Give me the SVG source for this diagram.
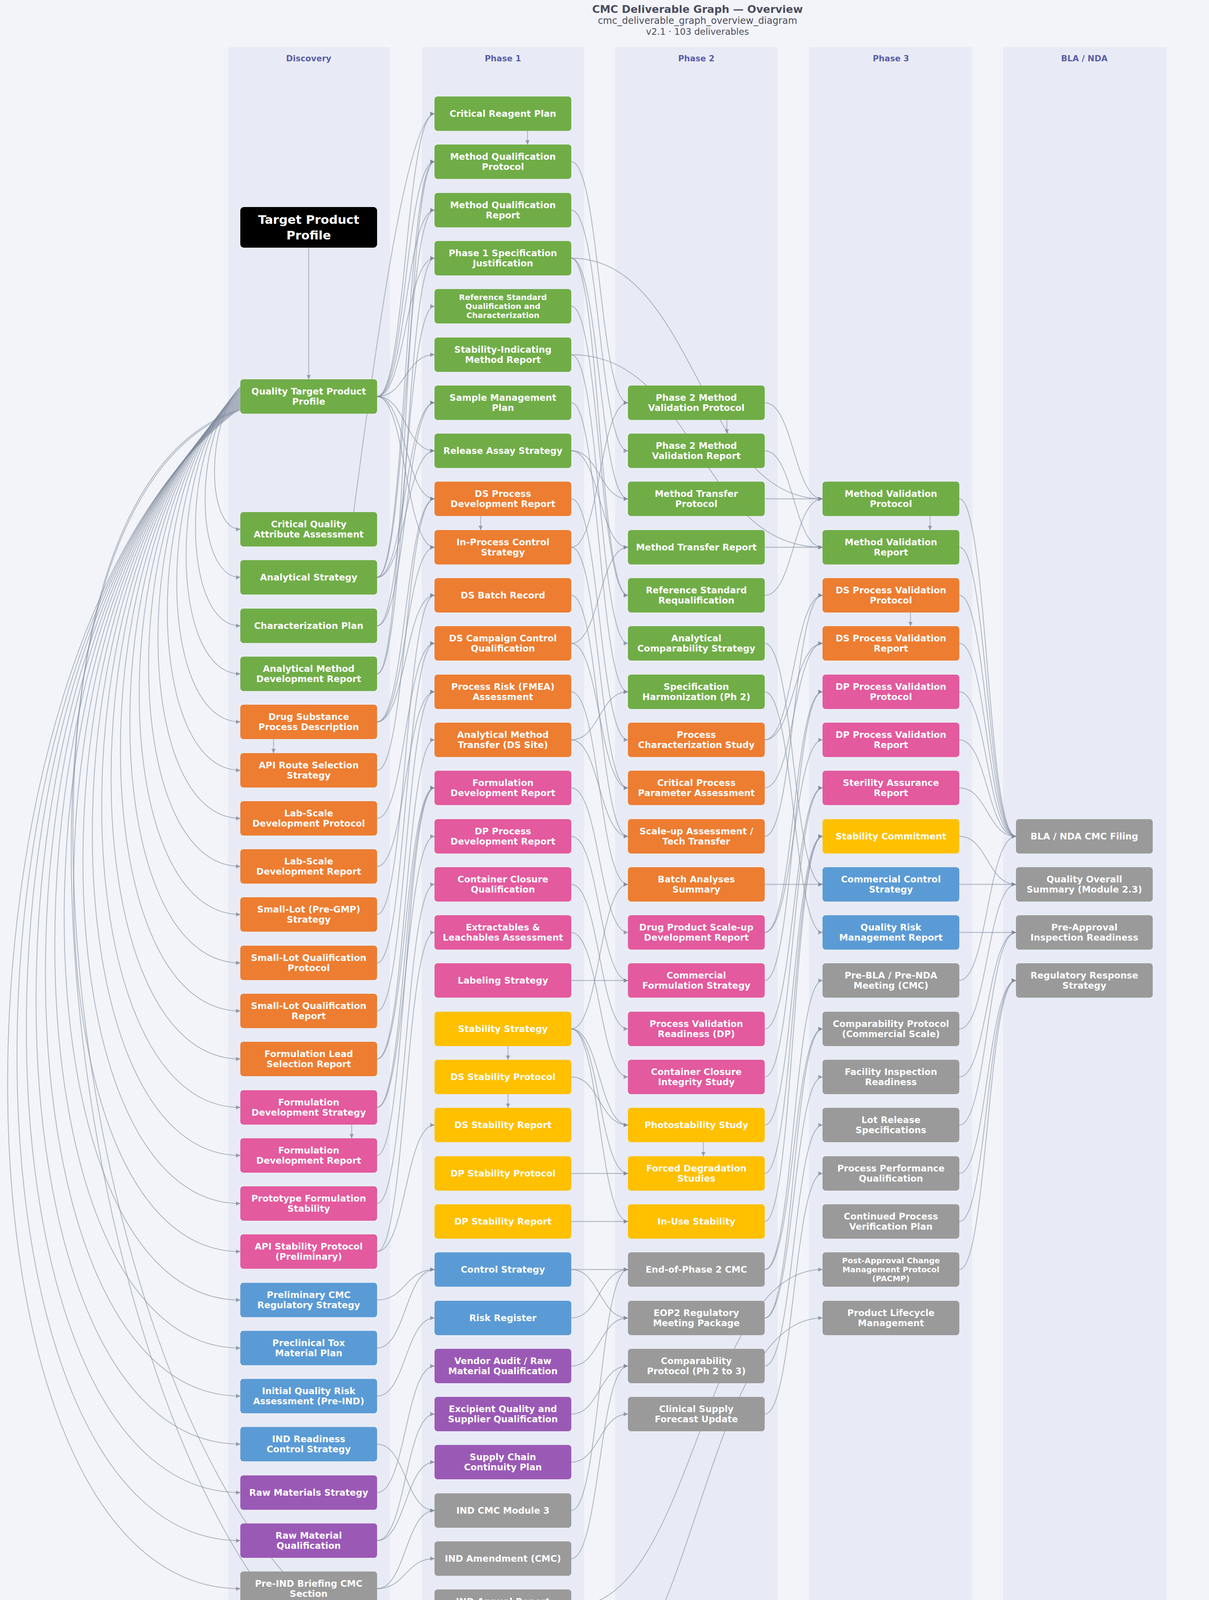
<svg xmlns="http://www.w3.org/2000/svg" width="3094" height="4520" viewBox="0 0 3094 4520">
<style>
.bg{fill:#F2F4F9}
.lane{fill:#E8EBF5}
.lh{font-family:'DejaVu Sans','Liberation Sans',sans-serif;font-weight:bold;font-size:21px;fill:#5a5ea8;text-anchor:middle}
.tt{font-family:'DejaVu Sans','Liberation Sans',sans-serif;fill:#4a4d5e;text-anchor:middle}
.n text{font-family:'DejaVu Sans','Liberation Sans',sans-serif;font-weight:bold;font-size:23px;fill:#fff;text-anchor:middle}
.n text.s{font-size:20px}
.gr rect{fill:#70AD47}
.or rect{fill:#ED7D31}
.pk rect{fill:#E35A9E}
.ye rect{fill:#FFC000}
.bl rect{fill:#5B9BD5}
.pu rect{fill:#9B59B6}
.gy rect{fill:#9A9A9A}
.bk rect{fill:#000}
.edges path{fill:none;stroke:#7f8a9c;stroke-width:2.3;stroke-opacity:.55;marker-end:url(#ah)}
.lg{font-family:'DejaVu Sans','Liberation Sans',sans-serif;font-size:14px;fill:#555}
</style>
<defs>
<marker id="ah" viewBox="0 0 10 10" refX="10" refY="5" markerWidth="12" markerHeight="11" markerUnits="userSpaceOnUse" orient="auto"><path d="M0,0 L10,5 L0,10 z" fill="#7f8a9c" fill-opacity=".75"/></marker>
</defs>
<rect class="bg" x="0" y="0" width="3094" height="4520"/>
<g id="title">
<text class="tt" x="1785" y="33" style="font-size:27px;font-weight:bold">CMC Deliverable Graph — Overview</text>
<text class="tt" x="1785" y="61" style="font-size:24px">cmc_deliverable_graph_overview_diagram</text>
<text class="tt" x="1785" y="89" style="font-size:23px">v2.1 · 103 deliverables</text>
</g>
<g id="lanes">
<rect class="lane" x="584" y="121" width="414" height="4384"/>
<rect class="lane" x="1079" y="121" width="416" height="4384"/>
<rect class="lane" x="1574" y="121" width="416" height="4384"/>
<rect class="lane" x="2070" y="121" width="418" height="4384"/>
<rect class="lane" x="2567" y="121" width="418" height="4384"/>
<text class="lh" x="790" y="157">Discovery</text>
<text class="lh" x="1287" y="157">Phase 1</text>
<text class="lh" x="1782" y="157">Phase 2</text>
<text class="lh" x="2280" y="157">Phase 3</text>
<text class="lh" x="2775" y="157">BLA / NDA</text>
</g>
<g id="connectors" class="edges">
<path d="M790 634 L790 971"/>
<path d="M615 990 C527 1083 527 1355 615 1355"/>
<path d="M615 992 C495 1108 495 1478 615 1478"/>
<path d="M615 995 C462 1132 462 1602 615 1602"/>
<path d="M615 997 C430 1157 430 1725 615 1725"/>
<path d="M615 1000 C398 1182 398 1848 615 1848"/>
<path d="M615 1002 C366 1206 366 1972 615 1972"/>
<path d="M615 1005 C334 1231 334 2095 615 2095"/>
<path d="M615 1007 C302 1256 302 2218 615 2218"/>
<path d="M615 1010 C270 1280 270 2341 615 2341"/>
<path d="M615 1012 C238 1305 238 2465 615 2465"/>
<path d="M615 1015 C206 1330 206 2588 615 2588"/>
<path d="M615 1017 C174 1354 174 2711 615 2711"/>
<path d="M615 1020 C142 1379 142 2835 615 2835"/>
<path d="M615 1022 C110 1404 110 2958 615 2958"/>
<path d="M615 1025 C78 1428 78 3081 615 3081"/>
<path d="M615 1027 C46 1453 46 3204 615 3204"/>
<path d="M615 1030 C14 1478 14 3328 615 3328"/>
<path d="M615 1032 C-18 1502 -18 3451 615 3451"/>
<path d="M615 1035 C-50 1527 -50 3574 615 3574"/>
<path d="M615 1037 C-82 1551 -82 3697 615 3697"/>
<path d="M615 1040 C-115 1576 -115 3821 615 3821"/>
<path d="M615 1042 C-147 1601 -147 3944 615 3944"/>
<path d="M615 1045 C-179 1625 -179 4067 615 4067"/>
<path d="M615 1048 C-200 1300 250 4237 1112 4237"/>
<path d="M615 1050 C-210 1320 250 4360 1112 4360"/>
<path d="M905 1311 C960 900 1040 300 1112 291"/>
<path d="M965 1015 C1038 1015 1038 291 1112 291"/>
<path d="M965 1015 C1038 1015 1038 414 1112 414"/>
<path d="M965 1015 C1038 1015 1038 538 1112 538"/>
<path d="M965 1015 C1038 1015 1038 661 1112 661"/>
<path d="M965 1015 C1038 1015 1038 908 1112 908"/>
<path d="M965 1015 C1038 1015 1038 1154 1112 1154"/>
<path d="M965 1015 C1038 1015 1038 1277 1112 1277"/>
<path d="M965 1015 C1038 1015 1038 1401 1112 1401"/>
<path d="M965 1478 C1038 1478 1038 414 1112 414"/>
<path d="M965 1478 C1038 1478 1038 538 1112 538"/>
<path d="M965 1478 C1038 1478 1038 1031 1112 1031"/>
<path d="M965 1478 C1038 1478 1038 1154 1112 1154"/>
<path d="M965 1602 C1038 1602 1038 784 1112 784"/>
<path d="M965 1602 C1038 1602 1038 1031 1112 1031"/>
<path d="M965 1725 C1038 1725 1038 414 1112 414"/>
<path d="M965 1725 C1038 1725 1038 661 1112 661"/>
<path d="M965 1848 C1038 1848 1038 1277 1112 1277"/>
<path d="M965 1848 C1038 1848 1038 1401 1112 1401"/>
<path d="M965 1848 C1038 1848 1038 1524 1112 1524"/>
<path d="M965 1972 C1038 1972 1038 1277 1112 1277"/>
<path d="M965 2095 C1038 2095 1038 1647 1112 1647"/>
<path d="M965 2218 C1038 2218 1038 1771 1112 1771"/>
<path d="M965 2341 C1038 2341 1038 1524 1112 1524"/>
<path d="M965 2465 C1038 2465 1038 1647 1112 1647"/>
<path d="M965 2588 C1038 2588 1038 1771 1112 1771"/>
<path d="M965 2711 C1038 2711 1038 1894 1112 1894"/>
<path d="M965 2711 C1038 2711 1038 2017 1112 2017"/>
<path d="M965 2835 C1038 2835 1038 2017 1112 2017"/>
<path d="M965 2835 C1038 2835 1038 2141 1112 2141"/>
<path d="M965 2958 C1038 2958 1038 2017 1112 2017"/>
<path d="M965 3081 C1038 3081 1038 2264 1112 2264"/>
<path d="M965 3204 C1038 3204 1038 2387 1112 2387"/>
<path d="M965 3204 C1038 3204 1038 2880 1112 2880"/>
<path d="M965 3328 C1038 3328 1038 3250 1112 3250"/>
<path d="M965 3451 C1038 3451 1038 3250 1112 3250"/>
<path d="M965 3574 C1038 3574 1038 3374 1112 3374"/>
<path d="M965 3697 C1038 3697 1038 3867 1112 3867"/>
<path d="M965 3821 C1038 3821 1038 3497 1112 3497"/>
<path d="M965 3944 C1038 3944 1038 3620 1112 3620"/>
<path d="M965 3944 C1038 3944 1038 3743 1112 3743"/>
<path d="M965 4067 C1038 4067 1038 3867 1112 3867"/>
<path d="M965 4067 C1038 4067 1038 3990 1112 3990"/>
<path d="M1462 414 C1534 414 1534 1031 1607 1031"/>
<path d="M1462 538 C1534 538 1534 1154 1607 1154"/>
<path d="M1462 661 C1534 661 1534 1524 1607 1524"/>
<path d="M1462 661 C1534 661 1534 1277 1607 1277"/>
<path d="M1462 784 C1534 784 1534 1524 1607 1524"/>
<path d="M1462 908 C1534 908 1534 1647 1607 1647"/>
<path d="M1462 1031 C1534 1031 1534 1771 1607 1771"/>
<path d="M1462 1154 C1534 1154 1534 1277 1607 1277"/>
<path d="M1462 1154 C1534 1154 1534 1401 1607 1401"/>
<path d="M1462 1277 C1534 1277 1534 1894 1607 1894"/>
<path d="M1462 1401 C1534 1401 1534 2017 1607 2017"/>
<path d="M1462 1401 C1534 1401 1534 1031 1607 1031"/>
<path d="M1462 1524 C1534 1524 1534 2141 1607 2141"/>
<path d="M1462 1647 C1534 1647 1534 2017 1607 2017"/>
<path d="M1462 1647 C1534 1647 1534 1401 1607 1401"/>
<path d="M1462 1771 C1534 1771 1534 2264 1607 2264"/>
<path d="M1462 1894 C1534 1894 1534 2141 1607 2141"/>
<path d="M1462 1894 C1534 1894 1534 1771 1607 1771"/>
<path d="M1462 2017 C1534 2017 1534 2387 1607 2387"/>
<path d="M1462 2141 C1534 2141 1534 2510 1607 2510"/>
<path d="M1462 2264 C1534 2264 1534 2634 1607 2634"/>
<path d="M1462 2387 C1534 2387 1534 2757 1607 2757"/>
<path d="M1462 2510 C1534 2510 1534 2510 1607 2510"/>
<path d="M1462 2634 C1534 2634 1534 2880 1607 2880"/>
<path d="M1462 2634 C1534 2634 1534 3004 1607 3004"/>
<path d="M1462 2634 C1534 2634 1534 3127 1607 3127"/>
<path d="M1462 2634 C1534 2634 1534 2264 1607 2264"/>
<path d="M1462 2757 C1534 2757 1534 2880 1607 2880"/>
<path d="M1462 3004 C1534 3004 1534 3004 1607 3004"/>
<path d="M1462 3127 C1534 3127 1534 3127 1607 3127"/>
<path d="M1462 3250 C1534 3250 1534 3250 1607 3250"/>
<path d="M1462 3250 C1534 3250 1534 3374 1607 3374"/>
<path d="M1462 3374 C1534 3374 1534 3250 1607 3250"/>
<path d="M1462 3497 C1534 3497 1534 3374 1607 3374"/>
<path d="M1462 3620 C1534 3620 1534 3497 1607 3497"/>
<path d="M1462 3743 C1534 3743 1534 3620 1607 3620"/>
<path d="M1462 3867 C1534 3867 1534 3250 1607 3250"/>
<path d="M1462 3990 C1534 3990 1534 3497 1607 3497"/>
<path d="M1462 661 C1780 661 1790 1277 2105 1277"/>
<path d="M1462 908 C1780 908 1790 1401 2105 1401"/>
<path d="M1462 4113 C1780 4113 1790 3250 2105 3250"/>
<path d="M1462 4360 C1780 4360 1790 3374 2105 3374"/>
<path d="M1957 1031 C2031 1031 2031 1277 2105 1277"/>
<path d="M1957 1154 C2031 1154 2031 1401 2105 1401"/>
<path d="M1957 1277 C2031 1277 2031 1277 2105 1277"/>
<path d="M1957 1401 C2031 1401 2031 1401 2105 1401"/>
<path d="M1957 1524 C2031 1524 2031 1277 2105 1277"/>
<path d="M1957 1647 C2031 1647 2031 2264 2105 2264"/>
<path d="M1957 1771 C2031 1771 2031 2387 2105 2387"/>
<path d="M1957 1894 C2031 1894 2031 1524 2105 1524"/>
<path d="M1957 1894 C2031 1894 2031 1647 2105 1647"/>
<path d="M1957 2017 C2031 2017 2031 1647 2105 1647"/>
<path d="M1957 2141 C2031 2141 2031 1524 2105 1524"/>
<path d="M1957 2264 C2031 2264 2031 2264 2105 2264"/>
<path d="M1957 2387 C2031 2387 2031 1771 2105 1771"/>
<path d="M1957 2387 C2031 2387 2031 1894 2105 1894"/>
<path d="M1957 2510 C2031 2510 2031 1771 2105 1771"/>
<path d="M1957 2634 C2031 2634 2031 2017 2105 2017"/>
<path d="M1957 2757 C2031 2757 2031 2017 2105 2017"/>
<path d="M1957 2880 C2031 2880 2031 2141 2105 2141"/>
<path d="M1957 3004 C2031 3004 2031 2141 2105 2141"/>
<path d="M1957 3127 C2031 3127 2031 2141 2105 2141"/>
<path d="M1957 3250 C2031 3250 2031 2510 2105 2510"/>
<path d="M1957 3250 C2031 3250 2031 2634 2105 2634"/>
<path d="M1957 3374 C2031 3374 2031 2634 2105 2634"/>
<path d="M1957 3374 C2031 3374 2031 2757 2105 2757"/>
<path d="M1957 3497 C2031 3497 2031 2880 2105 2880"/>
<path d="M1957 3620 C2031 3620 2031 3004 2105 3004"/>
<path d="M2455 1277 C2527 1277 2527 2141 2600 2141"/>
<path d="M2455 1401 C2527 1401 2527 2141 2600 2141"/>
<path d="M2455 1524 C2527 1524 2527 2141 2600 2141"/>
<path d="M2455 1647 C2527 1647 2527 2141 2600 2141"/>
<path d="M2455 1771 C2527 1771 2527 2141 2600 2141"/>
<path d="M2455 1894 C2527 1894 2527 2141 2600 2141"/>
<path d="M2455 2017 C2527 2017 2527 2141 2600 2141"/>
<path d="M2455 2141 C2527 2141 2527 2264 2600 2264"/>
<path d="M2455 2264 C2527 2264 2527 2264 2600 2264"/>
<path d="M2455 2387 C2527 2387 2527 2387 2600 2387"/>
<path d="M2455 2510 C2527 2510 2527 2141 2600 2141"/>
<path d="M2455 2634 C2527 2634 2527 2264 2600 2264"/>
<path d="M2455 2757 C2527 2757 2527 2387 2600 2387"/>
<path d="M2455 2880 C2527 2880 2527 2387 2600 2387"/>
<path d="M2455 3004 C2527 3004 2527 2510 2600 2510"/>
<path d="M2455 3127 C2527 3127 2527 2510 2600 2510"/>
<path d="M2455 3250 C2527 3250 2527 2510 2600 2510"/>
<path d="M1350 335 L1350 370"/>
<path d="M1230 1321 L1230 1357"/>
<path d="M1300 2678 L1300 2713"/>
<path d="M1300 2801 L1300 2836"/>
<path d="M1860 1075 L1860 1110"/>
<path d="M1800 2924 L1800 2960"/>
<path d="M2380 1321 L2380 1357"/>
<path d="M2330 1568 L2330 1603"/>
<path d="M700 1892 L700 1928"/>
<path d="M900 2879 L900 2914"/>
</g>
<g id="nodes">
<g id="d-tpp" class="n bk" transform="translate(790,582)"><rect x="-175" y="-52" width="350" height="104" rx="9"/><text style="font-size:31px"><tspan x="0" y="-9">Target Product</tspan><tspan x="0" y="31">Profile</tspan></text></g>
<g id="d-qtpp" class="n gr" transform="translate(790,1015)"><rect x="-175" y="-44" width="350" height="88" rx="8"/><text><tspan x="0" y="-5">Quality Target Product</tspan><tspan x="0" y="21">Profile</tspan></text></g>
<g id="d-00" class="n gr" transform="translate(790,1355)"><rect x="-175" y="-44" width="350" height="88" rx="8"/><text><tspan x="0" y="-5">Critical Quality</tspan><tspan x="0" y="21">Attribute Assessment</tspan></text></g>
<g id="d-01" class="n gr" transform="translate(790,1478)"><rect x="-175" y="-44" width="350" height="88" rx="8"/><text y="8">Analytical Strategy</text></g>
<g id="d-02" class="n gr" transform="translate(790,1602)"><rect x="-175" y="-44" width="350" height="88" rx="8"/><text y="8">Characterization Plan</text></g>
<g id="d-03" class="n gr" transform="translate(790,1725)"><rect x="-175" y="-44" width="350" height="88" rx="8"/><text><tspan x="0" y="-5">Analytical Method</tspan><tspan x="0" y="21">Development Report</tspan></text></g>
<g id="d-04" class="n or" transform="translate(790,1848)"><rect x="-175" y="-44" width="350" height="88" rx="8"/><text><tspan x="0" y="-5">Drug Substance</tspan><tspan x="0" y="21">Process Description</tspan></text></g>
<g id="d-05" class="n or" transform="translate(790,1972)"><rect x="-175" y="-44" width="350" height="88" rx="8"/><text><tspan x="0" y="-5">API Route Selection</tspan><tspan x="0" y="21">Strategy</tspan></text></g>
<g id="d-06" class="n or" transform="translate(790,2095)"><rect x="-175" y="-44" width="350" height="88" rx="8"/><text><tspan x="0" y="-5">Lab-Scale</tspan><tspan x="0" y="21">Development Protocol</tspan></text></g>
<g id="d-07" class="n or" transform="translate(790,2218)"><rect x="-175" y="-44" width="350" height="88" rx="8"/><text><tspan x="0" y="-5">Lab-Scale</tspan><tspan x="0" y="21">Development Report</tspan></text></g>
<g id="d-08" class="n or" transform="translate(790,2341)"><rect x="-175" y="-44" width="350" height="88" rx="8"/><text><tspan x="0" y="-5">Small-Lot (Pre-GMP)</tspan><tspan x="0" y="21">Strategy</tspan></text></g>
<g id="d-09" class="n or" transform="translate(790,2465)"><rect x="-175" y="-44" width="350" height="88" rx="8"/><text><tspan x="0" y="-5">Small-Lot Qualification</tspan><tspan x="0" y="21">Protocol</tspan></text></g>
<g id="d-10" class="n or" transform="translate(790,2588)"><rect x="-175" y="-44" width="350" height="88" rx="8"/><text><tspan x="0" y="-5">Small-Lot Qualification</tspan><tspan x="0" y="21">Report</tspan></text></g>
<g id="d-11" class="n or" transform="translate(790,2711)"><rect x="-175" y="-44" width="350" height="88" rx="8"/><text><tspan x="0" y="-5">Formulation Lead</tspan><tspan x="0" y="21">Selection Report</tspan></text></g>
<g id="d-12" class="n pk" transform="translate(790,2835)"><rect x="-175" y="-44" width="350" height="88" rx="8"/><text><tspan x="0" y="-5">Formulation</tspan><tspan x="0" y="21">Development Strategy</tspan></text></g>
<g id="d-13" class="n pk" transform="translate(790,2958)"><rect x="-175" y="-44" width="350" height="88" rx="8"/><text><tspan x="0" y="-5">Formulation</tspan><tspan x="0" y="21">Development Report</tspan></text></g>
<g id="d-14" class="n pk" transform="translate(790,3081)"><rect x="-175" y="-44" width="350" height="88" rx="8"/><text><tspan x="0" y="-5">Prototype Formulation</tspan><tspan x="0" y="21">Stability</tspan></text></g>
<g id="d-15" class="n pk" transform="translate(790,3204)"><rect x="-175" y="-44" width="350" height="88" rx="8"/><text><tspan x="0" y="-5">API Stability Protocol</tspan><tspan x="0" y="21">(Preliminary)</tspan></text></g>
<g id="d-16" class="n bl" transform="translate(790,3328)"><rect x="-175" y="-44" width="350" height="88" rx="8"/><text><tspan x="0" y="-5">Preliminary CMC</tspan><tspan x="0" y="21">Regulatory Strategy</tspan></text></g>
<g id="d-17" class="n bl" transform="translate(790,3451)"><rect x="-175" y="-44" width="350" height="88" rx="8"/><text><tspan x="0" y="-5">Preclinical Tox</tspan><tspan x="0" y="21">Material Plan</tspan></text></g>
<g id="d-18" class="n bl" transform="translate(790,3574)"><rect x="-175" y="-44" width="350" height="88" rx="8"/><text><tspan x="0" y="-5">Initial Quality Risk</tspan><tspan x="0" y="21">Assessment (Pre-IND)</tspan></text></g>
<g id="d-19" class="n bl" transform="translate(790,3697)"><rect x="-175" y="-44" width="350" height="88" rx="8"/><text><tspan x="0" y="-5">IND Readiness</tspan><tspan x="0" y="21">Control Strategy</tspan></text></g>
<g id="d-20" class="n pu" transform="translate(790,3821)"><rect x="-175" y="-44" width="350" height="88" rx="8"/><text y="8">Raw Materials Strategy</text></g>
<g id="d-21" class="n pu" transform="translate(790,3944)"><rect x="-175" y="-44" width="350" height="88" rx="8"/><text><tspan x="0" y="-5">Raw Material</tspan><tspan x="0" y="21">Qualification</tspan></text></g>
<g id="d-22" class="n gy" transform="translate(790,4067)"><rect x="-175" y="-44" width="350" height="88" rx="8"/><text><tspan x="0" y="-5">Pre-IND Briefing CMC</tspan><tspan x="0" y="21">Section</tspan></text></g>

<g id="p1-00" class="n gr" transform="translate(1287,291)"><rect x="-175" y="-44" width="350" height="88" rx="8"/><text y="8">Critical Reagent Plan</text></g>
<g id="p1-01" class="n gr" transform="translate(1287,414)"><rect x="-175" y="-44" width="350" height="88" rx="8"/><text><tspan x="0" y="-5">Method Qualification</tspan><tspan x="0" y="21">Protocol</tspan></text></g>
<g id="p1-02" class="n gr" transform="translate(1287,538)"><rect x="-175" y="-44" width="350" height="88" rx="8"/><text><tspan x="0" y="-5">Method Qualification</tspan><tspan x="0" y="21">Report</tspan></text></g>
<g id="p1-03" class="n gr" transform="translate(1287,661)"><rect x="-175" y="-44" width="350" height="88" rx="8"/><text><tspan x="0" y="-5">Phase 1 Specification</tspan><tspan x="0" y="21">Justification</tspan></text></g>
<g id="p1-04" class="n gr" transform="translate(1287,784)"><rect x="-175" y="-44" width="350" height="88" rx="8"/><text class="s"><tspan x="0" y="-16">Reference Standard</tspan><tspan x="0" y="7">Qualification and</tspan><tspan x="0" y="30">Characterization</tspan></text></g>
<g id="p1-05" class="n gr" transform="translate(1287,908)"><rect x="-175" y="-44" width="350" height="88" rx="8"/><text><tspan x="0" y="-5">Stability-Indicating</tspan><tspan x="0" y="21">Method Report</tspan></text></g>
<g id="p1-06" class="n gr" transform="translate(1287,1031)"><rect x="-175" y="-44" width="350" height="88" rx="8"/><text><tspan x="0" y="-5">Sample Management</tspan><tspan x="0" y="21">Plan</tspan></text></g>
<g id="p1-07" class="n gr" transform="translate(1287,1154)"><rect x="-175" y="-44" width="350" height="88" rx="8"/><text y="8">Release Assay Strategy</text></g>
<g id="p1-08" class="n or" transform="translate(1287,1277)"><rect x="-175" y="-44" width="350" height="88" rx="8"/><text><tspan x="0" y="-5">DS Process</tspan><tspan x="0" y="21">Development Report</tspan></text></g>
<g id="p1-09" class="n or" transform="translate(1287,1401)"><rect x="-175" y="-44" width="350" height="88" rx="8"/><text><tspan x="0" y="-5">In-Process Control</tspan><tspan x="0" y="21">Strategy</tspan></text></g>
<g id="p1-10" class="n or" transform="translate(1287,1524)"><rect x="-175" y="-44" width="350" height="88" rx="8"/><text y="8">DS Batch Record</text></g>
<g id="p1-11" class="n or" transform="translate(1287,1647)"><rect x="-175" y="-44" width="350" height="88" rx="8"/><text><tspan x="0" y="-5">DS Campaign Control</tspan><tspan x="0" y="21">Qualification</tspan></text></g>
<g id="p1-12" class="n or" transform="translate(1287,1771)"><rect x="-175" y="-44" width="350" height="88" rx="8"/><text><tspan x="0" y="-5">Process Risk (FMEA)</tspan><tspan x="0" y="21">Assessment</tspan></text></g>
<g id="p1-13" class="n or" transform="translate(1287,1894)"><rect x="-175" y="-44" width="350" height="88" rx="8"/><text><tspan x="0" y="-5">Analytical Method</tspan><tspan x="0" y="21">Transfer (DS Site)</tspan></text></g>
<g id="p1-14" class="n pk" transform="translate(1287,2017)"><rect x="-175" y="-44" width="350" height="88" rx="8"/><text><tspan x="0" y="-5">Formulation</tspan><tspan x="0" y="21">Development Report</tspan></text></g>
<g id="p1-15" class="n pk" transform="translate(1287,2141)"><rect x="-175" y="-44" width="350" height="88" rx="8"/><text><tspan x="0" y="-5">DP Process</tspan><tspan x="0" y="21">Development Report</tspan></text></g>
<g id="p1-16" class="n pk" transform="translate(1287,2264)"><rect x="-175" y="-44" width="350" height="88" rx="8"/><text><tspan x="0" y="-5">Container Closure</tspan><tspan x="0" y="21">Qualification</tspan></text></g>
<g id="p1-17" class="n pk" transform="translate(1287,2387)"><rect x="-175" y="-44" width="350" height="88" rx="8"/><text><tspan x="0" y="-5">Extractables &amp;</tspan><tspan x="0" y="21">Leachables Assessment</tspan></text></g>
<g id="p1-18" class="n pk" transform="translate(1287,2510)"><rect x="-175" y="-44" width="350" height="88" rx="8"/><text y="8">Labeling Strategy</text></g>
<g id="p1-19" class="n ye" transform="translate(1287,2634)"><rect x="-175" y="-44" width="350" height="88" rx="8"/><text y="8">Stability Strategy</text></g>
<g id="p1-20" class="n ye" transform="translate(1287,2757)"><rect x="-175" y="-44" width="350" height="88" rx="8"/><text y="8">DS Stability Protocol</text></g>
<g id="p1-21" class="n ye" transform="translate(1287,2880)"><rect x="-175" y="-44" width="350" height="88" rx="8"/><text y="8">DS Stability Report</text></g>
<g id="p1-22" class="n ye" transform="translate(1287,3004)"><rect x="-175" y="-44" width="350" height="88" rx="8"/><text y="8">DP Stability Protocol</text></g>
<g id="p1-23" class="n ye" transform="translate(1287,3127)"><rect x="-175" y="-44" width="350" height="88" rx="8"/><text y="8">DP Stability Report</text></g>
<g id="p1-24" class="n bl" transform="translate(1287,3250)"><rect x="-175" y="-44" width="350" height="88" rx="8"/><text y="8">Control Strategy</text></g>
<g id="p1-25" class="n bl" transform="translate(1287,3374)"><rect x="-175" y="-44" width="350" height="88" rx="8"/><text y="8">Risk Register</text></g>
<g id="p1-26" class="n pu" transform="translate(1287,3497)"><rect x="-175" y="-44" width="350" height="88" rx="8"/><text><tspan x="0" y="-5">Vendor Audit / Raw</tspan><tspan x="0" y="21">Material Qualification</tspan></text></g>
<g id="p1-27" class="n pu" transform="translate(1287,3620)"><rect x="-175" y="-44" width="350" height="88" rx="8"/><text><tspan x="0" y="-5">Excipient Quality and</tspan><tspan x="0" y="21">Supplier Qualification</tspan></text></g>
<g id="p1-28" class="n pu" transform="translate(1287,3743)"><rect x="-175" y="-44" width="350" height="88" rx="8"/><text><tspan x="0" y="-5">Supply Chain</tspan><tspan x="0" y="21">Continuity Plan</tspan></text></g>
<g id="p1-29" class="n gy" transform="translate(1287,3867)"><rect x="-175" y="-44" width="350" height="88" rx="8"/><text y="8">IND CMC Module 3</text></g>
<g id="p1-30" class="n gy" transform="translate(1287,3990)"><rect x="-175" y="-44" width="350" height="88" rx="8"/><text y="8">IND Amendment (CMC)</text></g>
<g id="p1-31" class="n gy" transform="translate(1287,4113)"><rect x="-175" y="-44" width="350" height="88" rx="8"/><text><tspan x="0" y="-5">IND Annual Report</tspan><tspan x="0" y="21">(CMC)</tspan></text></g>
<g id="p1-32" class="n gy" transform="translate(1287,4237)"><rect x="-175" y="-44" width="350" height="88" rx="8"/><text><tspan x="0" y="-5">Quality and</tspan><tspan x="0" y="21">Compliance Summary</tspan></text></g>
<g id="p1-33" class="n gy" transform="translate(1287,4360)"><rect x="-175" y="-44" width="350" height="88" rx="8"/><text><tspan x="0" y="-5">End-of-Phase 1</tspan><tspan x="0" y="21">Regulatory Meeting</tspan></text></g>

<g id="p2-06" class="n gr" transform="translate(1782,1031)"><rect x="-175" y="-44" width="350" height="88" rx="8"/><text><tspan x="0" y="-5">Phase 2 Method</tspan><tspan x="0" y="21">Validation Protocol</tspan></text></g>
<g id="p2-07" class="n gr" transform="translate(1782,1154)"><rect x="-175" y="-44" width="350" height="88" rx="8"/><text><tspan x="0" y="-5">Phase 2 Method</tspan><tspan x="0" y="21">Validation Report</tspan></text></g>
<g id="p2-08" class="n gr" transform="translate(1782,1277)"><rect x="-175" y="-44" width="350" height="88" rx="8"/><text><tspan x="0" y="-5">Method Transfer</tspan><tspan x="0" y="21">Protocol</tspan></text></g>
<g id="p2-09" class="n gr" transform="translate(1782,1401)"><rect x="-175" y="-44" width="350" height="88" rx="8"/><text y="8">Method Transfer Report</text></g>
<g id="p2-10" class="n gr" transform="translate(1782,1524)"><rect x="-175" y="-44" width="350" height="88" rx="8"/><text><tspan x="0" y="-5">Reference Standard</tspan><tspan x="0" y="21">Requalification</tspan></text></g>
<g id="p2-11" class="n gr" transform="translate(1782,1647)"><rect x="-175" y="-44" width="350" height="88" rx="8"/><text><tspan x="0" y="-5">Analytical</tspan><tspan x="0" y="21">Comparability Strategy</tspan></text></g>
<g id="p2-12" class="n gr" transform="translate(1782,1771)"><rect x="-175" y="-44" width="350" height="88" rx="8"/><text><tspan x="0" y="-5">Specification</tspan><tspan x="0" y="21">Harmonization (Ph 2)</tspan></text></g>
<g id="p2-13" class="n or" transform="translate(1782,1894)"><rect x="-175" y="-44" width="350" height="88" rx="8"/><text><tspan x="0" y="-5">Process</tspan><tspan x="0" y="21">Characterization Study</tspan></text></g>
<g id="p2-14" class="n or" transform="translate(1782,2017)"><rect x="-175" y="-44" width="350" height="88" rx="8"/><text><tspan x="0" y="-5">Critical Process</tspan><tspan x="0" y="21">Parameter Assessment</tspan></text></g>
<g id="p2-15" class="n or" transform="translate(1782,2141)"><rect x="-175" y="-44" width="350" height="88" rx="8"/><text><tspan x="0" y="-5">Scale-up Assessment /</tspan><tspan x="0" y="21">Tech Transfer</tspan></text></g>
<g id="p2-16" class="n or" transform="translate(1782,2264)"><rect x="-175" y="-44" width="350" height="88" rx="8"/><text><tspan x="0" y="-5">Batch Analyses</tspan><tspan x="0" y="21">Summary</tspan></text></g>
<g id="p2-17" class="n pk" transform="translate(1782,2387)"><rect x="-175" y="-44" width="350" height="88" rx="8"/><text><tspan x="0" y="-5">Drug Product Scale-up</tspan><tspan x="0" y="21">Development Report</tspan></text></g>
<g id="p2-18" class="n pk" transform="translate(1782,2510)"><rect x="-175" y="-44" width="350" height="88" rx="8"/><text><tspan x="0" y="-5">Commercial</tspan><tspan x="0" y="21">Formulation Strategy</tspan></text></g>
<g id="p2-19" class="n pk" transform="translate(1782,2634)"><rect x="-175" y="-44" width="350" height="88" rx="8"/><text><tspan x="0" y="-5">Process Validation</tspan><tspan x="0" y="21">Readiness (DP)</tspan></text></g>
<g id="p2-20" class="n pk" transform="translate(1782,2757)"><rect x="-175" y="-44" width="350" height="88" rx="8"/><text><tspan x="0" y="-5">Container Closure</tspan><tspan x="0" y="21">Integrity Study</tspan></text></g>
<g id="p2-21" class="n ye" transform="translate(1782,2880)"><rect x="-175" y="-44" width="350" height="88" rx="8"/><text y="8">Photostability Study</text></g>
<g id="p2-22" class="n ye" transform="translate(1782,3004)"><rect x="-175" y="-44" width="350" height="88" rx="8"/><text><tspan x="0" y="-5">Forced Degradation</tspan><tspan x="0" y="21">Studies</tspan></text></g>
<g id="p2-23" class="n ye" transform="translate(1782,3127)"><rect x="-175" y="-44" width="350" height="88" rx="8"/><text y="8">In-Use Stability</text></g>
<g id="p2-24" class="n gy" transform="translate(1782,3250)"><rect x="-175" y="-44" width="350" height="88" rx="8"/><text y="8">End-of-Phase 2 CMC</text></g>
<g id="p2-25" class="n gy" transform="translate(1782,3374)"><rect x="-175" y="-44" width="350" height="88" rx="8"/><text><tspan x="0" y="-5">EOP2 Regulatory</tspan><tspan x="0" y="21">Meeting Package</tspan></text></g>
<g id="p2-26" class="n gy" transform="translate(1782,3497)"><rect x="-175" y="-44" width="350" height="88" rx="8"/><text><tspan x="0" y="-5">Comparability</tspan><tspan x="0" y="21">Protocol (Ph 2 to 3)</tspan></text></g>
<g id="p2-27" class="n gy" transform="translate(1782,3620)"><rect x="-175" y="-44" width="350" height="88" rx="8"/><text><tspan x="0" y="-5">Clinical Supply</tspan><tspan x="0" y="21">Forecast Update</tspan></text></g>

<g id="p3-08" class="n gr" transform="translate(2280,1277)"><rect x="-175" y="-44" width="350" height="88" rx="8"/><text><tspan x="0" y="-5">Method Validation</tspan><tspan x="0" y="21">Protocol</tspan></text></g>
<g id="p3-09" class="n gr" transform="translate(2280,1401)"><rect x="-175" y="-44" width="350" height="88" rx="8"/><text><tspan x="0" y="-5">Method Validation</tspan><tspan x="0" y="21">Report</tspan></text></g>
<g id="p3-10" class="n or" transform="translate(2280,1524)"><rect x="-175" y="-44" width="350" height="88" rx="8"/><text><tspan x="0" y="-5">DS Process Validation</tspan><tspan x="0" y="21">Protocol</tspan></text></g>
<g id="p3-11" class="n or" transform="translate(2280,1647)"><rect x="-175" y="-44" width="350" height="88" rx="8"/><text><tspan x="0" y="-5">DS Process Validation</tspan><tspan x="0" y="21">Report</tspan></text></g>
<g id="p3-12" class="n pk" transform="translate(2280,1771)"><rect x="-175" y="-44" width="350" height="88" rx="8"/><text><tspan x="0" y="-5">DP Process Validation</tspan><tspan x="0" y="21">Protocol</tspan></text></g>
<g id="p3-13" class="n pk" transform="translate(2280,1894)"><rect x="-175" y="-44" width="350" height="88" rx="8"/><text><tspan x="0" y="-5">DP Process Validation</tspan><tspan x="0" y="21">Report</tspan></text></g>
<g id="p3-14" class="n pk" transform="translate(2280,2017)"><rect x="-175" y="-44" width="350" height="88" rx="8"/><text><tspan x="0" y="-5">Sterility Assurance</tspan><tspan x="0" y="21">Report</tspan></text></g>
<g id="p3-15" class="n ye" transform="translate(2280,2141)"><rect x="-175" y="-44" width="350" height="88" rx="8"/><text y="8">Stability Commitment</text></g>
<g id="p3-16" class="n bl" transform="translate(2280,2264)"><rect x="-175" y="-44" width="350" height="88" rx="8"/><text><tspan x="0" y="-5">Commercial Control</tspan><tspan x="0" y="21">Strategy</tspan></text></g>
<g id="p3-17" class="n bl" transform="translate(2280,2387)"><rect x="-175" y="-44" width="350" height="88" rx="8"/><text><tspan x="0" y="-5">Quality Risk</tspan><tspan x="0" y="21">Management Report</tspan></text></g>
<g id="p3-18" class="n gy" transform="translate(2280,2510)"><rect x="-175" y="-44" width="350" height="88" rx="8"/><text><tspan x="0" y="-5">Pre-BLA / Pre-NDA</tspan><tspan x="0" y="21">Meeting (CMC)</tspan></text></g>
<g id="p3-19" class="n gy" transform="translate(2280,2634)"><rect x="-175" y="-44" width="350" height="88" rx="8"/><text><tspan x="0" y="-5">Comparability Protocol</tspan><tspan x="0" y="21">(Commercial Scale)</tspan></text></g>
<g id="p3-20" class="n gy" transform="translate(2280,2757)"><rect x="-175" y="-44" width="350" height="88" rx="8"/><text><tspan x="0" y="-5">Facility Inspection</tspan><tspan x="0" y="21">Readiness</tspan></text></g>
<g id="p3-21" class="n gy" transform="translate(2280,2880)"><rect x="-175" y="-44" width="350" height="88" rx="8"/><text><tspan x="0" y="-5">Lot Release</tspan><tspan x="0" y="21">Specifications</tspan></text></g>
<g id="p3-22" class="n gy" transform="translate(2280,3004)"><rect x="-175" y="-44" width="350" height="88" rx="8"/><text><tspan x="0" y="-5">Process Performance</tspan><tspan x="0" y="21">Qualification</tspan></text></g>
<g id="p3-23" class="n gy" transform="translate(2280,3127)"><rect x="-175" y="-44" width="350" height="88" rx="8"/><text><tspan x="0" y="-5">Continued Process</tspan><tspan x="0" y="21">Verification Plan</tspan></text></g>
<g id="p3-24" class="n gy" transform="translate(2280,3250)"><rect x="-175" y="-44" width="350" height="88" rx="8"/><text class="s"><tspan x="0" y="-16">Post-Approval Change</tspan><tspan x="0" y="7">Management Protocol</tspan><tspan x="0" y="30">(PACMP)</tspan></text></g>
<g id="p3-25" class="n gy" transform="translate(2280,3374)"><rect x="-175" y="-44" width="350" height="88" rx="8"/><text><tspan x="0" y="-5">Product Lifecycle</tspan><tspan x="0" y="21">Management</tspan></text></g>

<g id="bla-15" class="n gy" transform="translate(2775,2141)"><rect x="-175" y="-44" width="350" height="88" rx="8"/><text y="8">BLA / NDA CMC Filing</text></g>
<g id="bla-16" class="n gy" transform="translate(2775,2264)"><rect x="-175" y="-44" width="350" height="88" rx="8"/><text><tspan x="0" y="-5">Quality Overall</tspan><tspan x="0" y="21">Summary (Module 2.3)</tspan></text></g>
<g id="bla-17" class="n gy" transform="translate(2775,2387)"><rect x="-175" y="-44" width="350" height="88" rx="8"/><text><tspan x="0" y="-5">Pre-Approval</tspan><tspan x="0" y="21">Inspection Readiness</tspan></text></g>
<g id="bla-18" class="n gy" transform="translate(2775,2510)"><rect x="-175" y="-44" width="350" height="88" rx="8"/><text><tspan x="0" y="-5">Regulatory Response</tspan><tspan x="0" y="21">Strategy</tspan></text></g>
</g>
<g id="legend">
<rect x="2742" y="4143" width="328" height="360" rx="6" fill="#fff" stroke="#d5d8e0" stroke-width="1.5"/>
<text class="lg" x="2906" y="4170" text-anchor="middle" style="font-weight:bold;font-size:16px">Legend</text>
<rect x="2750" y="4180" width="40" height="17" rx="3" fill="#7b8aa3"/><text class="lg" x="2802" y="4194">Dependency (input → output)</text>
<rect x="2750" y="4206" width="40" height="17" rx="3" fill="#a9c8e8"/><text class="lg" x="2802" y="4220">Quality / Control Strategy</text>
<rect x="2750" y="4233" width="40" height="17" rx="3" fill="#a9d18e"/><text class="lg" x="2802" y="4247">Analytical Development</text>
<rect x="2750" y="4259" width="40" height="17" rx="3" fill="#f4b183"/><text class="lg" x="2802" y="4273">Drug Substance Process</text>
<rect x="2750" y="4286" width="40" height="17" rx="3" fill="#f3a7c9"/><text class="lg" x="2802" y="4300">Drug Product</text>
<rect x="2750" y="4312" width="40" height="17" rx="3" fill="#ffd966"/><text class="lg" x="2802" y="4326">Stability</text>
<rect x="2750" y="4339" width="40" height="17" rx="3" fill="#c9a3e0"/><text class="lg" x="2802" y="4353">Raw Materials &amp; Supply</text>
<rect x="2750" y="4365" width="40" height="17" rx="3" fill="#e3e3e3"/><text class="lg" x="2802" y="4379">Regulatory</text>
<rect x="2750" y="4392" width="40" height="17" rx="3" fill="#555"/><text class="lg" x="2802" y="4406">Anchor: Target Product Profile</text>
<rect x="2750" y="4418" width="40" height="17" rx="3" fill="#8fae8f"/><text class="lg" x="2802" y="4432">Phase-gate deliverable</text>
<rect x="2750" y="4445" width="40" height="17" rx="3" fill="#9eacc4"/><text class="lg" x="2802" y="4459">Phase lane</text>
<rect x="2750" y="4471" width="40" height="17" rx="3" fill="#d8e2f0"/><text class="lg" x="2802" y="4485">Background</text>
</g>
</svg>
